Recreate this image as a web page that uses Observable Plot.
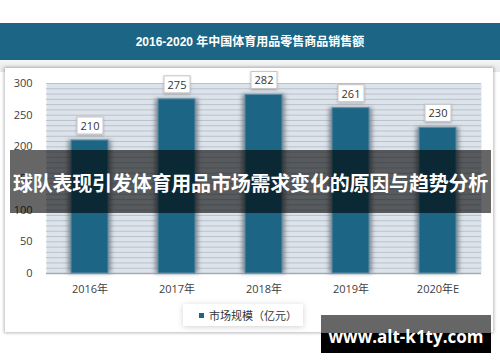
<!DOCTYPE html>
<html>
<head>
<meta charset="utf-8">
<script src="https://cdn.jsdelivr.net/npm/d3@7"></script>
<script src="https://cdn.jsdelivr.net/npm/@observablehq/plot@0.6"></script>
<style>
  html, body { margin: 0; padding: 0; background: #ffffff; }
  #wrap { position: relative; width: 500px; height: 362px; overflow: hidden; background: #fff; }
  #banner { position: absolute; left: 0; top: 23px; width: 500px; height: 37px; background: #1c6584;
    color: #fff; font: bold 12px "Liberation Sans", "Noto Sans CJK SC", sans-serif; text-align: center; line-height: 38px; z-index: 5; }
  #strip { position: absolute; left: 0; top: 60px; width: 500px; height: 12px; background: linear-gradient(#f4f5f6, #e6e8ea); }
  #panel { position: absolute; left: 5px; top: 68px; width: 488px; height: 264px; background: #fff;
    box-shadow: 0 0 3px 1px rgba(0,0,0,0.28); }
  #chart { position: absolute; left: 0; top: 0; z-index: 2; }
  #legend { position: absolute; left: 183px; top: 304px; width: 120px; height: 22px; background: #fff; z-index: 3;
    box-shadow: 0 1px 6px rgba(0,0,0,0.18); font: 11px "Noto Sans CJK SC", sans-serif; color: #333; }
  #legend .sw { position: absolute; left: 16px; top: 9px; width: 5px; height: 5px; background: #1c6584; }
  #legend .lb { position: absolute; left: 26px; top: 3px; line-height: 16px; white-space: nowrap; }
  #overlay { position: absolute; left: 10px; top: 150px; width: 481px; height: 63px; background: rgba(0,0,0,0.6); z-index: 6;
    color: #fff; font: bold 20px "Noto Sans CJK SC", sans-serif; text-align: center; line-height: 66px; white-space: nowrap; letter-spacing: -0.2px; }
  #wm { position: absolute; left: 321px; top: 315px; width: 170px; height: 38px; z-index: 6;
    background: linear-gradient(#666666 0, #666666 18px, #000000 18px, #000000 38px);
    color: #fff; font: bold 17px "Open Sans", sans-serif; text-align: center; line-height: 44px; white-space: nowrap; }
</style>
</head>
<body>
<div id="wrap">
  <div id="strip"></div>
  <div id="panel"></div>
  <div id="banner"></div>
  <div id="legend"><div class="sw"></div><div class="lb"></div></div>
  <div id="overlay"></div>
  <div id="wm"></div>
</div>
<script>
const titleText = "2016-2020 年中国体育用品零售商品销售额";
const years = ["2016年", "2017年", "2018年", "2019年", "2020年E"];
const values = [210, 275, 282, 261, 230];
const yTicks = [0, 50, 100, 150, 200, 250, 300];
const legendLabel = "市场规模（亿元）";
const overlayText = "球队表现引发体育用品市场需求变化的原因与趋势分析";
const watermarkText = "www.alt-k1ty.com";

document.getElementById("banner").textContent = titleText;
document.querySelector("#legend .lb").textContent = legendLabel;
document.getElementById("overlay").textContent = overlayText;
document.getElementById("wm").textContent = watermarkText;

const data = years.map((y, i) => ({year: y, value: values[i]}));
const gridVals = d3.range(0, 300.001, 50 / 6);

const chart = Plot.plot({
  width: 500,
  height: 362,
  marginTop: 83,
  marginBottom: 89,
  marginLeft: 46,
  marginRight: 19,
  style: {background: "transparent", fontFamily: "'Open Sans', 'Noto Sans CJK SC', sans-serif", fontSize: "11px", color: "#404040"},
  x: {type: "band", domain: years, paddingInner: 0.57, paddingOuter: 0.285},
  y: {domain: [0, 300]},
  marks: [
    Plot.frame({fill: "#dde3ea", stroke: null}),
    Plot.ruleY(gridVals, {stroke: "#b9c1ca", strokeWidth: 1}),
    Plot.ruleY([0], {stroke: "#a3abb4", strokeWidth: 1.5}),
    Plot.barY(data, {x: "year", y: "value", fill: "#6b737c", fillOpacity: 0.8, insetLeft: -3, insetRight: -3}),
    Plot.barY(data, {x: "year", y: "value", fill: "#1c6584", stroke: "#5f8fa8", strokeWidth: 1}),
    Plot.text(data, {x: "year", y: "value", text: d => String(d.value), dy: -14, fontSize: 11, fill: "#333333"}),
    Plot.axisY(yTicks, {tickSize: 0, tickPadding: 14, fontSize: 11, fill: "#404040", label: null}),
    Plot.axisX({tickSize: 0, tickPadding: 12, fontSize: 11, fill: "#404040", label: null})
  ]
});
document.getElementById("wrap").appendChild(chart);
chart.id = "chart";

// decorations: blur for bar shadows, boxes behind value labels
const ns = "http://www.w3.org/2000/svg";
const defs = document.createElementNS(ns, "defs");
defs.innerHTML = '<filter id="bshadow" x="-50%" y="-20%" width="200%" height="140%"><feGaussianBlur stdDeviation="2"/></filter>' +
  '<filter id="lshadow" x="-30%" y="-30%" width="160%" height="160%"><feDropShadow dx="0" dy="1" stdDeviation="1.2" flood-color="#000" flood-opacity="0.25"/></filter>';
chart.insertBefore(defs, chart.firstChild);
const barGroups = chart.querySelectorAll('g[aria-label="bar"]');
if (barGroups.length > 0) barGroups[0].setAttribute("filter", "url(#bshadow)");
chart.querySelectorAll('g[aria-label="text"] text').forEach(t => {
  const b = t.getBBox();
  const r = document.createElementNS(ns, "rect");
  const w = 26, h = 17;
  r.setAttribute("x", b.x + b.width / 2 - w / 2);
  r.setAttribute("y", b.y + b.height / 2 - h / 2);
  r.setAttribute("width", w);
  r.setAttribute("height", h);
  r.setAttribute("fill", "#ffffff");
  r.setAttribute("stroke", "#c4c4c4");
  r.setAttribute("filter", "url(#lshadow)");
  if (t.getAttribute("transform")) r.setAttribute("transform", t.getAttribute("transform"));
  t.parentNode.insertBefore(r, t);
});
</script>
</body>
</html>
